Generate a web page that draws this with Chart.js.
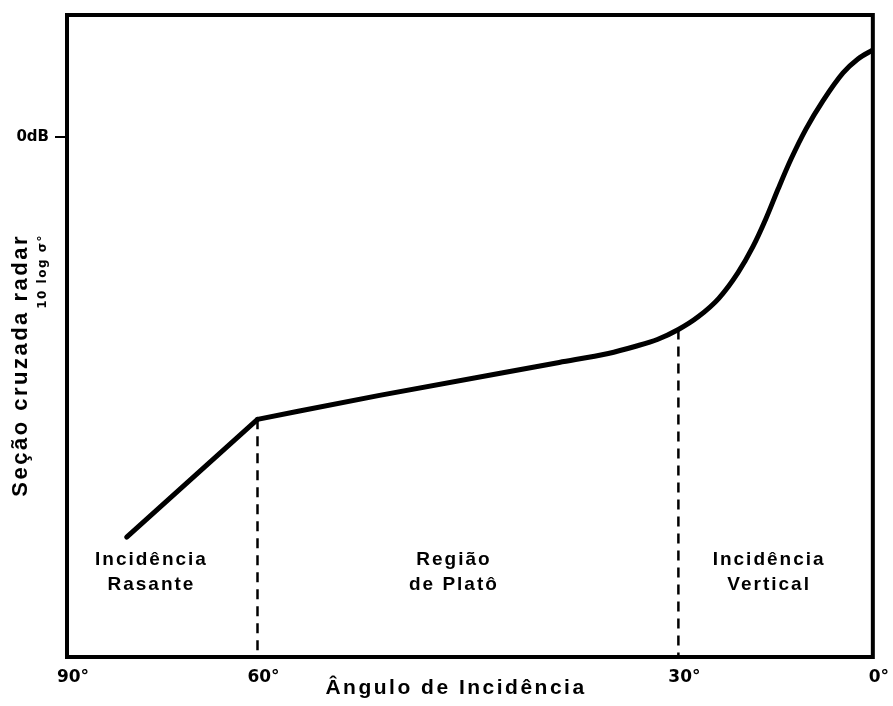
<!DOCTYPE html>
<html>
<head>
<meta charset="utf-8">
<script src="https://cdn.jsdelivr.net/npm/chart.js@4.4.1/dist/chart.umd.min.js"></script>
<style>
  html, body { margin: 0; padding: 0; background: #fff; }
  #chart { display: block; }
</style>
</head>
<body>
<canvas id="chart" width="893" height="706"></canvas>
<script>
// values: angle of incidence (deg) and backscatter (dB)
const rasanteAngles = [80.6, 60];
const rasanteDb = [-40.1, -28.3];
const curveAngles = [60, 51.3, 38.5, 35.0, 33.1, 31.5, 30, 26.9, 23.8, 20.8, 18.5, 16.5, 14.6, 12.6, 10.3, 7.7, 4.6, 2.3, 0];
const curveDb = [-28.3, -25.9, -22.6, -21.7, -21.0, -20.3, -19.3, -18.0, -16.2, -13.6, -11.0, -8.2, -5.2, -2.2, 0.8, 3.6, 6.4, 7.8, 8.7];
const limitAngles = [60, 30];
const limitDb = [-28.3, -19.3];
const xTickAngles = [90, 60, 30, 0];
const xTickLabels = ['90°', '60°', '30°', '0°'];
const yTickValues = [0];
const yTickLabels = ['0dB'];
const regionLabels = [['Incidência', 'Rasante'], ['Região', 'de Platô'], ['Incidência', 'Vertical']];

const yMin = -52.1;
const yMax = 12.2;

// the angle axis of the original is not linear: each 30° band has its own width
class PiecewiseScale extends Chart.LinearScale {
  static id = 'piecewise';
  static defaults = Chart.LinearScale.defaults;

  getPixelForValue(value) {
    const stops = this.options.stops;
    const v = stops.values, f = stops.fractions;
    let frac = f[f.length - 1];
    for (let i = 0; i < v.length - 1; i++) {
      const a = v[i], b = v[i + 1];
      if ((value <= a && value >= b) || (value >= a && value <= b)) {
        frac = f[i] + (value - a) / (b - a) * (f[i + 1] - f[i]);
        break;
      }
    }
    if (value > v[0]) frac = f[0];
    return this.left + frac * this.width;
  }

  getValueForPixel(pixel) {
    const stops = this.options.stops;
    const v = stops.values, f = stops.fractions;
    const frac = (pixel - this.left) / this.width;
    for (let i = 0; i < f.length - 1; i++) {
      if (frac >= f[i] && frac <= f[i + 1]) {
        return v[i] + (frac - f[i]) / (f[i + 1] - f[i]) * (v[i + 1] - v[i]);
      }
    }
    return frac < 0 ? v[0] : v[v.length - 1];
  }
}
Chart.register(PiecewiseScale);

const toPoints = (xs, ys) => xs.map((x, i) => ({ x: x, y: ys[i] }));

const decorations = {
  id: 'decorations',
  afterDatasetsDraw(chart, args, opts) {
    const { ctx, chartArea: a, scales: { x, y } } = chart;
    ctx.save();

    // frame
    ctx.strokeStyle = '#000';
    ctx.lineWidth = 4;
    ctx.strokeRect(a.left, a.top, a.right - a.left, a.bottom - a.top);

    ctx.fillStyle = '#000';
    ctx.textBaseline = 'alphabetic';

    // region names
    ctx.textAlign = 'center';
    ctx.font = 'bold 19px "Liberation Sans", Arial, sans-serif';
    ctx.letterSpacing = '2px';
    regionLabels.forEach((lines, i) => {
      const cx = x.getPixelForValue(opts.labelAngles[i]);
      lines.forEach((t, j) => ctx.fillText(t, cx, y.getPixelForValue(opts.labelDb[j])));
    });

    // x axis title
    ctx.font = 'bold 21px "Liberation Sans", Arial, sans-serif';
    ctx.letterSpacing = '2.5px';
    ctx.fillText('Ângulo de Incidência', opts.xTitle.x, opts.xTitle.y);

    // y axis title, two lines of different size
    ctx.textAlign = 'right';
    ctx.textBaseline = 'middle';
    ctx.save();
    ctx.translate(opts.yTitle.x, opts.yTitle.top);
    ctx.rotate(-Math.PI / 2);
    ctx.font = 'bold 22px "Liberation Sans", Arial, sans-serif';
    ctx.letterSpacing = '2.5px';
    ctx.fillText('Seção cruzada radar', 0, 0);
    ctx.restore();

    ctx.save();
    ctx.translate(opts.ySub.x, opts.ySub.top);
    ctx.rotate(-Math.PI / 2);
    ctx.font = 'bold 12px "DejaVu Sans", Arial, sans-serif';
    ctx.letterSpacing = '1.5px';
    ctx.fillText('10 log σ°', 0, 0);
    ctx.restore();

    ctx.restore();
  }
};

const lineStyle = {
  borderColor: '#000',
  pointRadius: 0,
  fill: false
};

const datasets = [
  Object.assign({ data: toPoints(rasanteAngles, rasanteDb), borderWidth: 5, tension: 0, borderCapStyle: 'round', borderJoinStyle: 'round' }, lineStyle),
  Object.assign({ data: toPoints(curveAngles, curveDb), borderWidth: 5, cubicInterpolationMode: 'monotone', borderCapStyle: 'round', borderJoinStyle: 'round' }, lineStyle)
];
limitAngles.forEach((ang, i) => {
  datasets.push(Object.assign({
    data: [{ x: ang, y: limitDb[i] }, { x: ang, y: yMin }],
    borderWidth: 2.5,
    borderDash: [10, 7],
    tension: 0
  }, lineStyle));
});

const ctx = document.getElementById('chart').getContext('2d');
new Chart(ctx, {
  type: 'line',
  data: { datasets: datasets },
  plugins: [decorations],
  options: {
    responsive: false,
    animation: false,
    layout: { padding: { top: 14, right: 18, left: 0, bottom: 0 } },
    plugins: {
      legend: { display: false },
      tooltip: { enabled: false },
      decorations: {
        labelAngles: [76.7, 46, 16],
        labelDb: [-42.9, -45.4],
        xTitle: { x: 456, y: 694 },
        yTitle: { x: 21, top: 234 },
        ySub: { x: 43, top: 234 }
      }
    },
    scales: {
      x: {
        type: 'piecewise',
        min: 0,
        max: 90,
        stops: { values: [90, 60, 30, 0], fractions: [0, 0.2364, 0.7587, 1] },
        grid: { display: false, drawTicks: false },
        border: { display: false },
        afterBuildTicks: (s) => { s.ticks = xTickAngles.map(v => ({ value: v })); },
        afterFit: (s) => { s.height = 49; },
        ticks: {
          autoSkip: false,
          maxRotation: 0,
          padding: 10,
          labelOffset: 6,
          color: '#000',
          font: { family: '"DejaVu Sans", sans-serif', weight: 'bold', size: 17 },
          callback: (v, i) => xTickLabels[i]
        }
      },
      y: {
        type: 'linear',
        min: yMin,
        max: yMax,
        grid: { display: true, drawOnChartArea: false, drawTicks: true, tickLength: 12, color: '#000', lineWidth: 2 },
        border: { display: false },
        afterBuildTicks: (s) => { s.ticks = yTickValues.map(v => ({ value: v })); },
        afterFit: (s) => { s.width = 67; },
        ticks: {
          padding: 6,
          color: '#000',
          font: { family: '"DejaVu Sans", sans-serif', weight: 'bold', size: 15 },
          callback: (v, i) => yTickLabels[i]
        }
      }
    }
  }
});
</script>
</body>
</html>
